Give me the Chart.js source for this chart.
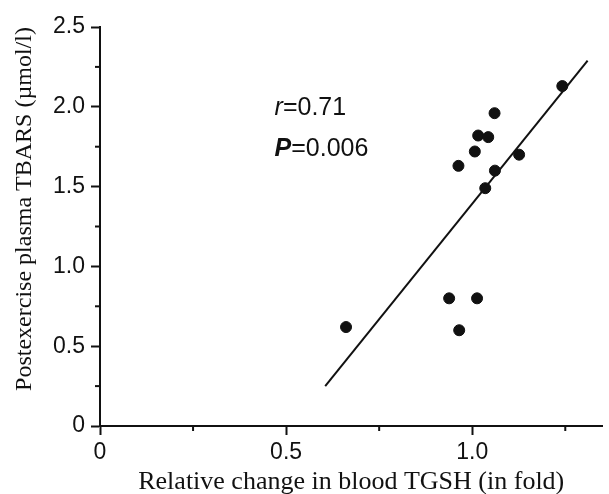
<!DOCTYPE html>
<html>
<head>
<meta charset="utf-8">
<script src="https://cdn.jsdelivr.net/npm/chart.js@4.4.1/dist/chart.umd.min.js"></script>
<style>
  html, body { margin: 0; padding: 0; background: #fff; }
  #wrap { width: 609px; height: 494px; position: relative; }
</style>
</head>
<body>
<div id="wrap"><canvas id="tbars_chart"></canvas></div>
<script>
// data
var tgsh  = [1.06, 1.016, 1.043, 1.007, 0.963, 1.126, 1.061, 1.035, 0.938, 1.013, 0.965, 0.661, 1.242];
var tbars = [1.96, 1.82, 1.81, 1.72, 1.63, 1.70, 1.60, 1.49, 0.80, 0.80, 0.60, 0.62, 2.13];

// regression line end points
var fitX = [0.605, 1.31];
var fitY = [0.25, 2.29];

// axis ticks
var xMajor = [0, 0.5, 1.0];
var xMinor = [0.25, 0.75, 1.25];
var yMajor = [0, 0.5, 1.0, 1.5, 2.0, 2.5];
var yMinor = [0.25, 0.75, 1.25, 1.75, 2.25];

var statR = '0.71';
var statP = '0.006';

var tickFont = { family: "'Liberation Sans', Arial, sans-serif", size: 23 };
var serif = "'Liberation Serif', 'Times New Roman', serif";
var sans = "'Liberation Sans', Arial, sans-serif";

function fmt(v) { return v === 0 ? '0' : v.toFixed(1); }

// minor ticks, y title and r / P text
var extras = {
  id: 'extras',
  afterDraw: function (chart) {
    var c = chart.ctx, xs = chart.scales.x, ys = chart.scales.y;
    var area = chart.chartArea;
    c.save();
    c.strokeStyle = '#111';
    c.lineWidth = 2;
    xMinor.forEach(function (v) {
      var px = xs.getPixelForValue(v);
      c.beginPath(); c.moveTo(px, area.bottom); c.lineTo(px, area.bottom + 5); c.stroke();
    });
    yMinor.forEach(function (v) {
      var py = ys.getPixelForValue(v);
      c.beginPath(); c.moveTo(area.left, py); c.lineTo(area.left - 5, py); c.stroke();
    });

    // y axis title
    c.fillStyle = '#111';
    c.font = '24px ' + serif;
    c.textAlign = 'center';
    c.textBaseline = 'middle';
    c.translate(25, 209);
    c.rotate(-Math.PI / 2);
    c.fillText('Postexercise plasma TBARS (\u00b5mol/l)', 0, 0);
    c.setTransform(1, 0, 0, 1, 0, 0);

    // stats text
    var tx = xs.getPixelForValue(0.469);
    c.textAlign = 'left';
    c.textBaseline = 'alphabetic';
    var y1 = ys.getPixelForValue(1.95);
    c.font = 'italic 25px ' + sans;
    c.fillText('r', tx, y1);
    var w = c.measureText('r').width;
    c.font = '25px ' + sans;
    c.fillText('=' + statR, tx + w, y1);

    var y2 = ys.getPixelForValue(1.69);
    c.font = 'italic bold 25px ' + sans;
    c.fillText('P', tx, y2);
    w = c.measureText('P').width;
    c.font = '25px ' + sans;
    c.fillText('=' + statP, tx + w, y2);
    c.restore();
  }
};

var ctx = document.getElementById('tbars_chart').getContext('2d');
new Chart(ctx, {
  type: 'scatter',
  data: {
    datasets: [
      {
        data: tgsh.map(function (x, i) { return { x: x, y: tbars[i] }; }),
        backgroundColor: '#111',
        borderColor: '#111',
        pointRadius: 5.5,
        pointHoverRadius: 5.5
      },
      {
        type: 'line',
        data: fitX.map(function (x, i) { return { x: x, y: fitY[i] }; }),
        borderColor: '#111',
        borderWidth: 2,
        pointRadius: 0,
        fill: false
      }
    ]
  },
  options: {
    responsive: true,
    maintainAspectRatio: false,
    animation: false,
    layout: { padding: { top: 27, right: 3, left: 0, bottom: 0 } },
    plugins: { legend: { display: false }, tooltip: { enabled: false } },
    scales: {
      x: {
        type: 'linear',
        min: 0,
        max: 1.35,
        afterBuildTicks: function (s) { s.ticks = xMajor.map(function (v) { return { value: v }; }); },
        afterFit: function (s) { s.height = 68; },
        border: { display: true, color: '#111', width: 2 },
        grid: { drawOnChartArea: false, tickLength: 9, tickColor: '#111', tickWidth: 2 },
        ticks: {
          color: '#111', font: tickFont, padding: 4, maxRotation: 0,
          callback: function (v) { return fmt(v); }
        },
        title: {
          display: true,
          text: 'Relative change in blood TGSH (in fold)',
          color: '#111',
          font: { family: serif, size: 26 },
          padding: { top: 2, bottom: -4 }
        }
      },
      y: {
        type: 'linear',
        min: 0,
        max: 2.5,
        afterBuildTicks: function (s) { s.ticks = yMajor.map(function (v) { return { value: v }; }); },
        afterFit: function (s) { s.width = 100; },
        border: { display: true, color: '#111', width: 2 },
        grid: { drawOnChartArea: false, tickLength: 9, tickColor: '#111', tickWidth: 2 },
        ticks: {
          color: '#111', font: tickFont, padding: 6,
          callback: function (v) { return fmt(v); }
        }
      }
    }
  },
  plugins: [extras]
});
</script>
</body>
</html>
